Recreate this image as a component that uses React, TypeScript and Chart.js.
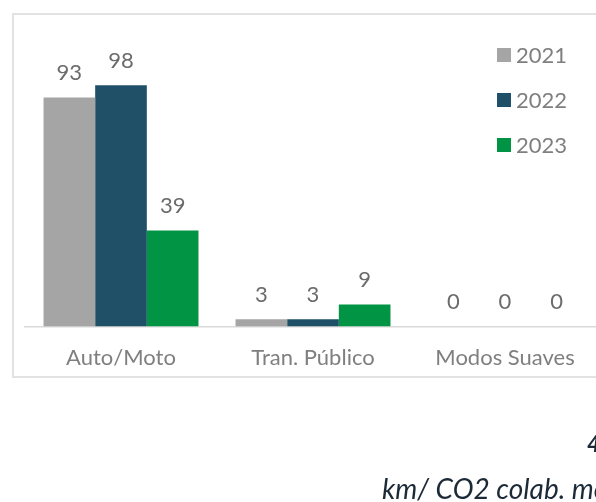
import React, { useEffect, useRef } from "react";
import { Chart, registerables } from "chart.js";

Chart.register(...registerables);

const categories = ["Auto/Moto", "Tran. Público", "Modos Suaves"];
const seriesNames = ["2021", "2022", "2023"];
const values2021 = [93, 3, 0];
const values2022 = [98, 3, 0];
const values2023 = [39, 9, 0];
const seriesColors = ["#A5A5A5", "#1F5068", "#009444"];

const FONT = "Lato";

const labelsPlugin = {
  id: "valueLabels",
  afterDatasetsDraw(chart: any) {
    const ctx = chart.ctx;
    ctx.save();
    ctx.font = `22px ${FONT}`;
    ctx.fillStyle = "#6b6b6b";
    ctx.textAlign = "center";
    ctx.textBaseline = "alphabetic";
    chart.data.datasets.forEach((ds: any, i: number) => {
      const meta = chart.getDatasetMeta(i);
      meta.data.forEach((el: any, j: number) => {
        ctx.fillText(String(ds.data[j]), el.x, el.y - 17.5);
      });
    });
    ctx.restore();
  },
};

const legendPlugin = {
  id: "sideLegend",
  afterDraw(chart: any) {
    const ctx = chart.ctx;
    ctx.save();
    ctx.font = `22px ${FONT}`;
    ctx.textBaseline = "middle";
    ctx.textAlign = "left";
    chart.data.datasets.forEach((ds: any, i: number) => {
      const cy = 55 + i * 45;
      ctx.fillStyle = ds.backgroundColor;
      ctx.fillRect(497, cy - 7, 14, 14);
      ctx.fillStyle = "#7f7f7f";
      ctx.fillText(ds.label, 516, cy + 1);
    });
    ctx.restore();
  },
};

export default function App() {
  const ref = useRef<HTMLCanvasElement | null>(null);
  useEffect(() => {
    if (!ref.current) return;
    const chart = new Chart(ref.current, {
      type: "bar",
      data: {
        labels: categories,
        datasets: [
          { label: seriesNames[0], data: values2021, backgroundColor: seriesColors[0] },
          { label: seriesNames[1], data: values2022, backgroundColor: seriesColors[1] },
          { label: seriesNames[2], data: values2023, backgroundColor: seriesColors[2] },
        ],
      },
      options: {
        animation: false,
        responsive: false,
        maintainAspectRatio: false,
        layout: { padding: { left: 25, right: 39, top: 31, bottom: 113 } },
        datasets: { bar: { barPercentage: 1, categoryPercentage: 0.807 } } as any,
        plugins: { legend: { display: false }, tooltip: { enabled: false } },
        scales: {
          y: { display: false, min: 0, max: 120 },
          x: {
            grid: { display: false, drawTicks: false },
            border: { display: true, color: "#d9d9d9", width: 1.5 },
            ticks: { color: "#7f7f7f", font: { family: FONT, size: 22 }, padding: 18 },
          },
        },
      },
      plugins: [labelsPlugin, legendPlugin],
    });
    return () => chart.destroy();
  }, []);

  return (
    <div style={{ position: "fixed", left: 0, top: 0, width: 596, height: 502, overflow: "hidden", background: "#fff" }}>
      <div
        style={{
          position: "absolute",
          left: 12,
          top: 13,
          width: 700,
          height: 361,
          border: "2px solid #e2e2e2",
        }}
      />
      <canvas ref={ref} width={640} height={502} style={{ position: "absolute", left: 0, top: 0, width: 640, height: 502 }} />
      <div
        style={{
          position: "absolute",
          left: 587,
          top: 431,
          fontFamily: FONT,
          fontStyle: "italic",
          fontWeight: 700,
          fontSize: 22,
          color: "#1c2a38",
          whiteSpace: "nowrap",
          lineHeight: "26.4px",
        }}
      >
        4
      </div>
      <div
        style={{
          position: "absolute",
          left: 382,
          top: 472,
          fontFamily: FONT,
          fontStyle: "italic",
          fontSize: 28,
          color: "#1c2a38",
          whiteSpace: "nowrap",
          lineHeight: "33.6px",
        }}
      >
        km/ CO2 colab. mes
      </div>
    </div>
  );
}
